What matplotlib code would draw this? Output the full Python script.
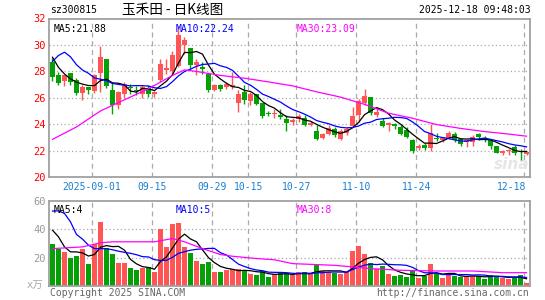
import numpy as np
import pandas as pd
import matplotlib
matplotlib.use('Agg')
import matplotlib.pyplot as plt
import matplotlib.transforms as mtransforms

# daily candles, 2025-08-21 .. 2025-12-18
opens = [28.69, 27.69, 27.28, 27.84, 27.31, 26.35, 26.81, 26.53, 27.86, 28.97,
         26.55, 25.42, 26.25, 26.83, 26.6, 26.3, 26.73, 26.25, 27.36, 28.11,
         28.06, 28.39, 30.03, 29.77, 28.49, 28.3, 27.8, 26.6, 27.0, 26.8,
         26.8, 25.62, 26.43, 25.72, 26.25, 25.6, 24.82, 24.78, 24.72, 24.37,
         24.16, 24.37, 24.49, 23.97, 23.5, 22.96, 23.23, 23.66, 22.86, 23.36,
         23.86, 24.67, 25.62, 26.05, 24.67, 24.24, 23.92, 24.0, 23.79, 23.54,
         22.78, 22.23, 22.4, 22.2, 22.95, 22.8, 22.96, 23.28, 22.86, 22.65,
         22.65, 23.23, 22.93, 22.78, 22.35, 21.85, 21.95, 22.28, 21.92, 21.75]
highs = [29.0, 27.94, 27.72, 27.86, 27.53, 26.93, 26.84, 27.81, 29.95, 28.97,
         27.23, 26.5, 27.18, 27.06, 26.9, 26.93, 26.95, 26.5, 28.94, 28.94,
         29.57, 31.4, 30.6, 29.8, 28.94, 28.7, 27.85, 27.06, 27.06, 27.18,
         27.94, 26.55, 26.93, 26.43, 26.3, 25.6, 25.0, 25.17, 25.17, 24.67,
         24.47, 24.79, 24.67, 24.22, 23.95, 23.36, 23.9, 23.79, 23.66, 23.79,
         25.3, 25.92, 26.63, 26.05, 25.3, 24.49, 24.17, 24.1, 23.92, 23.79,
         22.9, 22.52, 22.58, 23.98, 23.33, 23.03, 23.46, 23.4, 22.96, 22.9,
         23.15, 23.36, 23.1, 22.9, 22.35, 22.03, 22.15, 22.4, 22.1, 21.97]
lows = [27.3, 26.93, 26.88, 26.98, 26.18, 25.8, 26.3, 26.35, 26.43, 26.75,
        24.74, 25.17, 25.97, 26.3, 26.2, 25.95, 26.05, 26.05, 27.18, 27.81,
        27.69, 28.31, 29.3, 28.2, 27.69, 27.8, 26.43, 26.5, 26.5, 26.68,
        26.68, 24.9, 25.55, 25.42, 25.42, 24.47, 24.6, 24.47, 24.42, 23.46,
        23.97, 24.17, 23.87, 23.87, 22.78, 22.86, 23.16, 23.03, 22.78, 23.16,
        23.79, 24.17, 25.42, 24.72, 24.54, 23.79, 23.46, 23.66, 23.16, 22.96,
        21.82, 22.03, 22.08, 22.0, 22.7, 22.65, 22.9, 22.65, 22.36, 22.28,
        22.36, 22.8, 22.65, 22.1, 21.8, 21.65, 21.65, 21.65, 21.3, 21.65]
closes = [27.56, 27.13, 27.69, 27.18, 26.35, 26.81, 26.58, 27.69, 29.07, 26.88,
          25.42, 26.43, 27.06, 26.73, 26.5, 26.8, 26.25, 26.43, 28.57, 28.24,
          29.2, 30.75, 30.4, 28.49, 28.67, 28.2, 26.6, 26.93, 26.68, 27.06,
          26.93, 26.3, 25.8, 26.3, 25.55, 24.6, 24.79, 24.82, 24.55, 24.09,
          24.34, 24.62, 23.97, 24.1, 22.9, 23.28, 23.7, 23.16, 23.46, 23.66,
          24.62, 25.72, 26.13, 24.87, 24.92, 23.86, 24.09, 23.86, 23.28, 23.03,
          21.95, 22.35, 22.2, 23.3, 22.88, 22.92, 23.36, 22.83, 22.48, 22.78,
          23.03, 23.03, 22.88, 22.35, 21.85, 21.97, 22.07, 21.85, 21.88, 21.9]
volumes = [29.5, 26.4, 23.8, 19.6, 21.0, 26.0, 15.3, 29.3, 45.1, 26.9,
           22.4, 16.1, 16.1, 12.5, 11.1, 12.5, 13.2, 9.7, 40.1, 27.4,
           43.7, 44.4, 27.4, 23.1, 17.5, 15.3, 16.8, 9.7, 9.7, 11.1,
           11.8, 11.8, 10.9, 8.3, 7.6, 10.4, 6.4, 8.3, 9.2, 9.2,
           7.6, 9.7, 9.7, 8.5, 14.9, 10.4, 10.2, 9.4, 8.5, 9.7,
           24.6, 28.1, 22.4, 16.1, 11.8, 13.9, 8.3, 6.8, 7.6, 6.1,
           10.4, 5.4, 7.1, 15.3, 8.7, 5.4, 8.0, 7.1, 6.6, 6.6,
           7.3, 6.8, 5.0, 8.0, 7.3, 5.4, 4.7, 5.7, 7.6, 2.1]

# moving-average values read where earlier days are off the chart
ma5_lead = [29.07, 28.3, 27.8, 27.43]
ma10_lead = [28.75, 29.2, 29.45, 29.1, 28.5, 28.1, 27.85, 27.5, 27.4]
ma30_idx = [0, 4, 8, 12, 16, 20, 22, 24, 28, 32, 36, 40, 44, 48, 52, 56, 60, 64, 68, 72, 76, 79]
ma30_val = [22.85, 23.79, 25.0, 25.85, 26.68, 27.69, 28.11, 27.99, 27.69, 27.48, 27.2,
            26.9, 26.45, 26.05, 25.5, 24.83, 24.45, 23.97, 23.68, 23.44, 23.25, 23.09]
vma5_lead = [39.4, 34.7, 27.6, 24.1]
vma10_lead = [52.9, 53.1, 51.2, 45.3, 36.4, 33.1, 28.8, 26.4, 26.4]
vma30_idx = [0, 5, 8, 10, 17, 20, 22, 25, 28, 30, 34, 37, 40, 47, 50, 53, 58, 64, 70, 75, 79]
vma30_val = [26.4, 27.6, 30.5, 31.2, 31.2, 33.5, 31.2, 26.4, 22.2, 21.0, 19.4, 18.5,
             15.8, 14.6, 13.5, 12.3, 11.1, 10.6, 10.6, 9.4, 9.4]

date_labels = ['2025-09-01', '09-15', '09-29', '10-15', '10-27', '11-10', '11-24', '12-18']
date_idx = [7, 17, 27, 33, 41, 51, 61, 79]
price_ticks = [20, 22, 24, 26, 28, 30, 32]
vol_ticks = [20, 40, 60]

RED = '#ff5555'
GREEN = '#05a005'
GRID = '#aaaaaa'
MONO = 'DejaVu Sans Mono'
W, H = 545, 300


def px_rect(left, top, right, bottom):
    return [left / W, 1 - bottom / H, (right - left) / W, (bottom - top) / H]


df = pd.DataFrame({'open': opens, 'high': highs, 'low': lows,
                   'close': closes, 'vol': volumes})
x = np.arange(len(df))
up = df['close'] >= df['open']
colors = np.where(up, RED, GREEN)

ma5 = df['close'].rolling(5).mean()
ma5.iloc[:4] = ma5_lead
ma10 = df['close'].rolling(10).mean()
ma10.iloc[:9] = ma10_lead
vma5 = df['vol'].rolling(5).mean()
vma5.iloc[:4] = vma5_lead
vma10 = df['vol'].rolling(10).mean()
vma10.iloc[:9] = vma10_lead

fig = plt.figure(figsize=(W / 100, H / 100), dpi=100)
ax = fig.add_axes(px_rect(49, 18.5, 530, 177))
axv = fig.add_axes(px_rect(49, 201, 530, 286))

for a in (ax, axv):
    a.set_xlim(-0.58, 79.58)
    a.set_xticks([])
    for s in a.spines.values():
        s.set_color('#a0a0a0')
        s.set_linewidth(1.3)
    for i in date_idx:
        a.axvline(i - 0.4, color=GRID, lw=0.9, ls=(0, (4, 3)), zorder=0)
    a.tick_params(axis='y', length=0, pad=2, labelsize=7.5)

# price panel
ax.set_ylim(20, 32)
ax.set_yticks(price_ticks)
ax.tick_params(axis='y', labelcolor='red')
for lbl in ax.get_yticklabels():
    lbl.set_fontfamily(MONO)
for p in price_ticks[1:-1]:
    ax.axhline(p, color=GRID, lw=0.9, ls=(0, (1, 2)), zorder=0)

body = np.maximum((df['close'] - df['open']).abs(), 0.05)
ax.vlines(x, df['low'], df['high'], colors=colors, lw=1, zorder=2)
ax.bar(x, body, bottom=np.minimum(df['open'], df['close']), width=0.8,
       color=colors, zorder=3)
ax.plot(x, ma5, color='black', lw=0.9, zorder=4)
ax.plot(x, ma10, color='#0000ff', lw=0.9, zorder=4)
ax.plot(ma30_idx, ma30_val, color='#ff00ff', lw=0.9, zorder=4)

# faint watermark
ax.text(76.5, 20.4, 'sina', fontsize=11, fontweight='bold', style='italic',
        color='#e6e6e6', ha='center', va='bottom', zorder=1)

tr = mtransforms.blended_transform_factory(ax.transData, ax.transAxes)
for lbl, i in zip(date_labels, date_idx):
    if i == date_idx[-1]:
        ax.text(i - 0.1, -0.063, lbl, transform=tr, ha='right', va='center',
                fontsize=7, family=MONO, color='#1a7fd0')
    else:
        ax.text(i - 0.4, -0.063, lbl, transform=tr, ha='center', va='center',
                fontsize=7, family=MONO, color='#1a7fd0')

ax.text(0.009, 0.965, 'MA5:21.88', transform=ax.transAxes, fontsize=7,
        family=MONO, color='black', va='top')
ax.text(0.263, 0.965, 'MA10:22.24', transform=ax.transAxes, fontsize=7,
        family=MONO, color='#0000ff', va='top')
ax.text(0.514, 0.965, 'MA30:23.09', transform=ax.transAxes, fontsize=7,
        family=MONO, color='#ff00ff', va='top')

# volume panel
axv.set_ylim(0, 60)
axv.set_yticks(vol_ticks)
axv.tick_params(axis='y', labelcolor='#999999')
for lbl in axv.get_yticklabels():
    lbl.set_fontfamily(MONO)
for v in vol_ticks[:-1]:
    axv.axhline(v, color=GRID, lw=0.9, ls=(0, (1, 2)), zorder=0)
axv.bar(x, df['vol'], width=0.85, color=colors, zorder=2)
axv.plot(x, vma5, color='black', lw=0.9, zorder=3)
axv.plot(x, vma10, color='#0000ff', lw=0.9, zorder=3)
axv.plot(vma30_idx, vma30_val, color='#ff00ff', lw=0.9, zorder=3)
axv.text(-0.012, 0.0, 'x万', transform=axv.transAxes, ha='right', va='center',
         fontsize=7.5, color='#aaaaaa', family=['DejaVu Sans Mono', 'Noto Sans CJK SC'])

axv.text(0.009, 0.95, 'MA5:4', transform=axv.transAxes, fontsize=7,
         family=MONO, color='black', va='top')
axv.text(0.263, 0.95, 'MA10:5', transform=axv.transAxes, fontsize=7,
         family=MONO, color='#0000ff', va='top')
axv.text(0.514, 0.95, 'MA30:8', transform=axv.transAxes, fontsize=7,
         family=MONO, color='#ff00ff', va='top')

# header and footer
fig.text(50 / W, 1 - 10 / H, 'sz300815', fontsize=7, family=MONO, va='center')
fig.text(122 / W, 1 - 10 / H, '玉禾田 - 日K线图', fontsize=9.8,
         family=['Noto Sans CJK SC', 'DejaVu Sans'], va='center')
fig.text(531 / W, 1 - 10 / H, '2025-12-18 09:48:03', fontsize=7, family=MONO,
         va='center', ha='right')
fig.text(50 / W, 1 - 293 / H, 'Copyright 2025 SINA.COM', fontsize=7,
         family=MONO, va='center', color='#666666')
fig.text(529 / W, 1 - 293 / H, 'http://finance.sina.com.cn', fontsize=7,
         family=MONO, va='center', ha='right', color='#666666')

fig.savefig('out.png', dpi=100)
